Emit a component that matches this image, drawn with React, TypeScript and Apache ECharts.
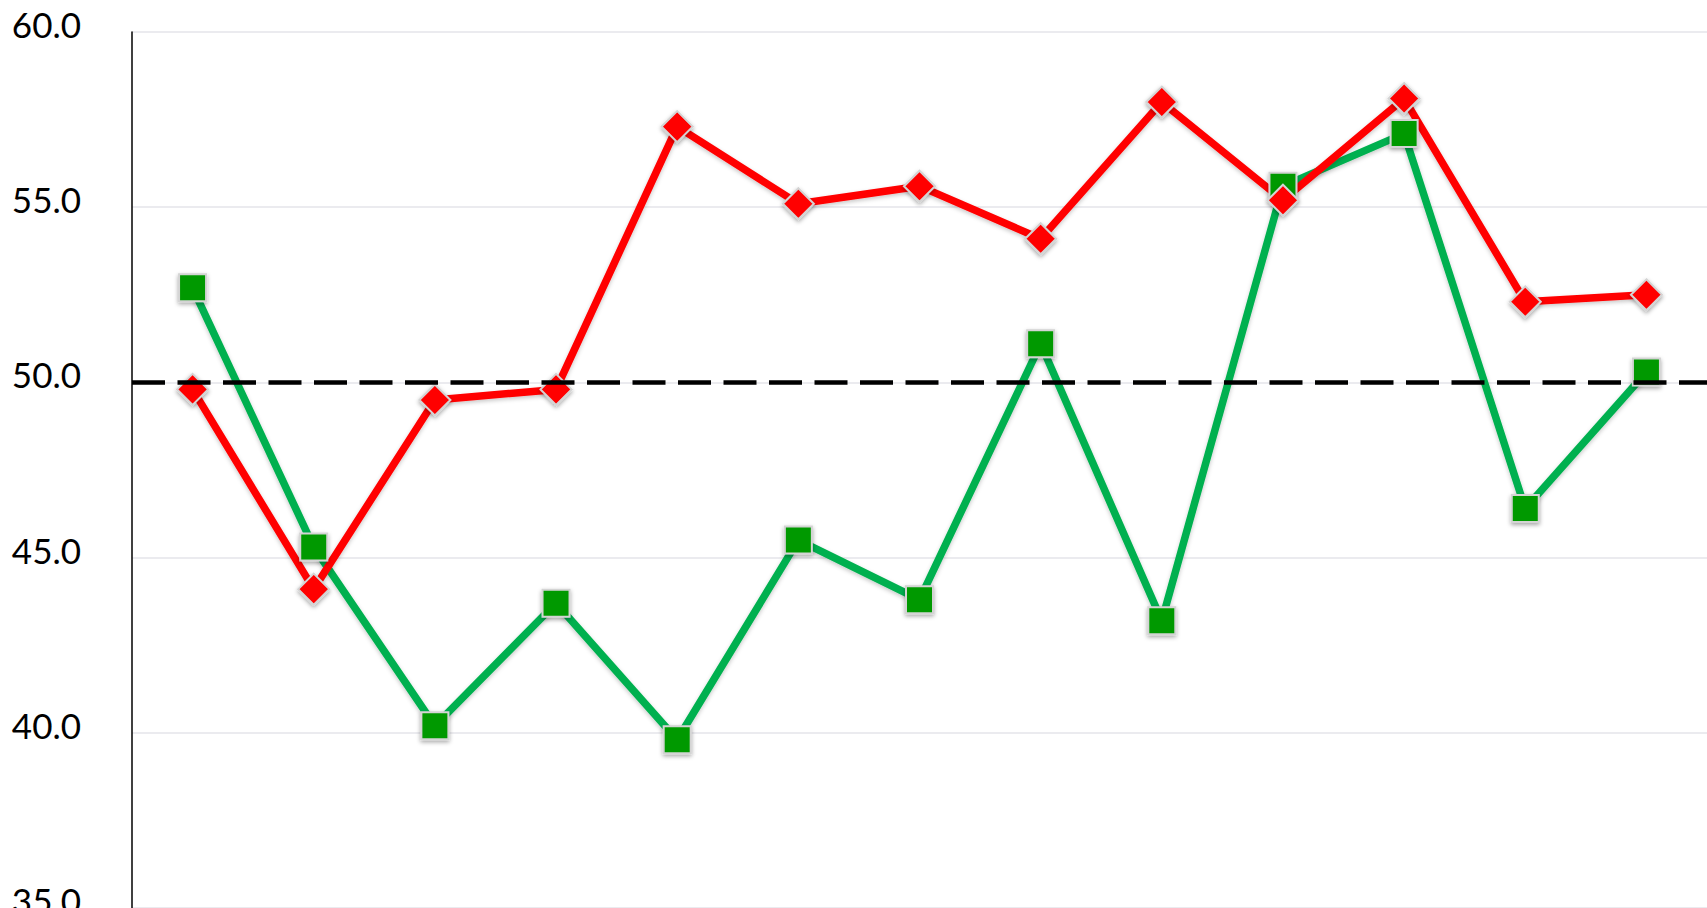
import React, { useEffect, useRef } from "react";
import * as echarts from "echarts";

const categories = ["1", "2", "3", "4", "5", "6", "7", "8", "9", "10", "11", "12", "13"];
const redValues = [49.8, 44.1, 49.5, 49.8, 57.3, 55.1, 55.6, 54.1, 58.0, 55.2, 58.1, 52.3, 52.5];
const greenValues = [52.7, 45.3, 40.2, 43.7, 39.8, 45.5, 43.8, 51.1, 43.2, 55.6, 57.1, 46.4, 50.3];
const referenceLevel = 50;
const yMin = 35;
const yMax = 60;
const yInterval = 5;

export default function App() {
  const ref = useRef<HTMLDivElement>(null);

  useEffect(() => {
    document.body.style.margin = "0";
    document.body.style.overflow = "hidden";
    if (!ref.current) return;
    const chart = echarts.init(ref.current, null, { renderer: "svg" });
    const markerShadow = {
      shadowColor: "rgba(0,0,0,0.35)",
      shadowBlur: 4,
      shadowOffsetX: 0,
      shadowOffsetY: 2,
    };
    const lineShadow = {
      shadowColor: "rgba(0,0,0,0.22)",
      shadowBlur: 4,
      shadowOffsetX: 0,
      shadowOffsetY: 2,
    };
    chart.setOption({
      animation: false,
      backgroundColor: "#ffffff",
      grid: {
        left: 132,
        right: 0,
        top: 32,
        bottom: 0,
        containLabel: false,
        outerBoundsMode: "none",
      },
      xAxis: {
        type: "category",
        data: categories,
        boundaryGap: true,
        axisLine: { show: false },
        axisTick: { show: false },
        axisLabel: { show: false },
        splitLine: { show: false },
      },
      yAxis: {
        type: "value",
        min: yMin,
        max: yMax,
        interval: yInterval,
        axisLine: { show: true, lineStyle: { color: "#000000", width: 1.5 } },
        axisTick: { show: false },
        axisLabel: {
          color: "#000000",
          fontFamily: "Lato",
          fontSize: 35,
          margin: 51,
          verticalAlign: "bottom",
          lineHeight: 16,
          formatter: (v: number) => v.toFixed(1),
        },
        splitLine: { show: true, lineStyle: { color: "#e4e4ea", width: 1.5 } },
      },
      series: [
        {
          name: "reference",
          type: "line",
          data: categories.map(() => null),
          symbol: "none",
          lineStyle: { opacity: 0 },
          markLine: {
            silent: true,
            symbol: ["none", "none"],
            label: { show: false },
            lineStyle: { color: "#000000", width: 4.5, type: [33, 12.5] },
            data: [{ yAxis: referenceLevel }],
          },
        },
        {
          name: "green",
          type: "line",
          data: greenValues,
          symbol: "rect",
          symbolSize: 27,
          lineStyle: { color: "#00b050", width: 7.5, ...lineShadow },
          itemStyle: {
            color: "#009900",
            borderColor: "#d4d4d4",
            borderWidth: 2,
            ...markerShadow,
          },
        },
        {
          name: "red",
          type: "line",
          data: redValues,
          symbol: "diamond",
          symbolSize: 31,
          lineStyle: { color: "#ff0000", width: 7.5, ...lineShadow },
          itemStyle: {
            color: "#ff0000",
            borderColor: "#d4d4d4",
            borderWidth: 2,
            ...markerShadow,
          },
        },
      ],
    });
    return () => chart.dispose();
  }, []);

  return <div ref={ref} style={{ width: 1707, height: 908 }} />;
}
